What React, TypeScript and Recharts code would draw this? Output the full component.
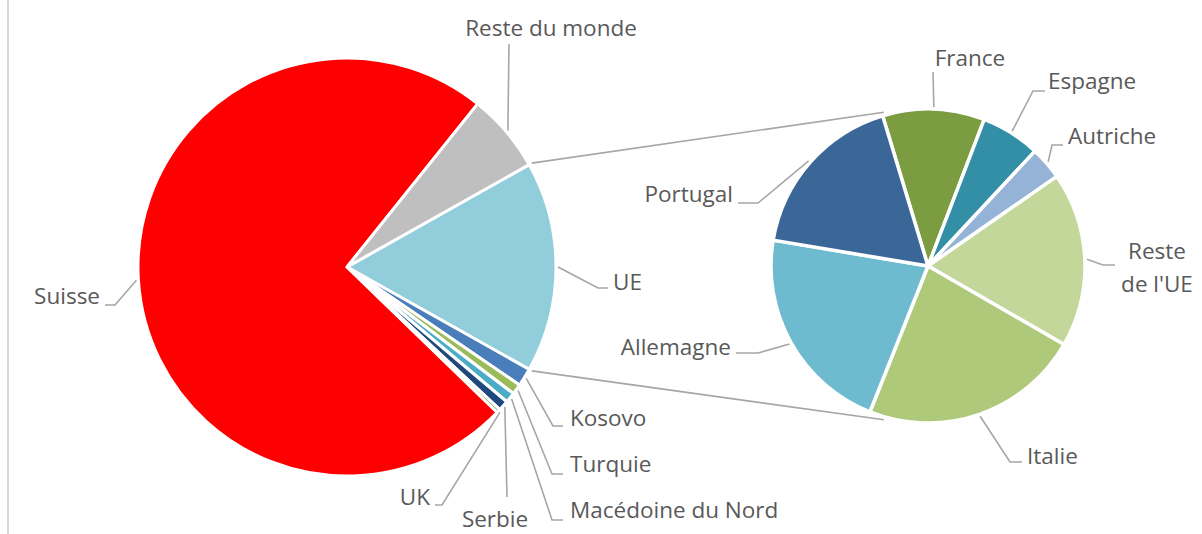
import React from "react";
import { PieChart, Pie, Cell } from "recharts";

// ---- Data ----
const leftNames = ["UE", "Kosovo", "Turquie", "Macédoine du Nord", "Serbie", "UK", "Suisse", "Reste du monde"];
const leftValues = [16.3, 1.4, 0.8, 0.8, 0.8, 0.3, 73.5, 6.1];
const leftColors = ["#92CDDC", "#4A7EBB", "#9BBB59", "#4BACC6", "#1F497D", "#77933C", "#FF0000", "#BFBFBF"];

const rightNames = ["France", "Espagne", "Autriche", "Reste de l'UE", "Italie", "Allemagne", "Portugal"];
const rightValues = [10.5, 6.1, 3.4, 18.0, 22.7, 21.6, 17.7];
const rightColors = ["#7B9C41", "#338FA6", "#95B3D7", "#C4D79B", "#AFC97B", "#6EBBD0", "#3A6698"];

// ---- Layout ----
const W = 1202;
const H = 534;
const LEFT = { cx: 347, cy: 267, r: 209 };
const RIGHT = { cx: 928, cy: 266, r: 157 };
const RIGHT_START = 106.8;
const FONT = "'Open Sans', 'Noto Sans', sans-serif";
const FONT_SIZE = 22.5;
const TEXT_COLOR = "#595959";
const LEADER = "#A6A6A6";

type Layout = {
  pts: number[][];
  tx: number;
  ty: number;
  anchor: "start" | "middle" | "end";
  lines?: string[];
  gap?: number;
};

const leftLayout: Record<string, Layout> = {
  "UE": { pts: [[251, 21], [261, 21]], tx: 266, ty: 23, anchor: "start" },
  "Kosovo": { pts: [[206, 159], [216, 159]], tx: 223, ty: 159, anchor: "start" },
  "Turquie": { pts: [[205, 207], [216, 207]], tx: 223, ty: 205, anchor: "start" },
  "Macédoine du Nord": { pts: [[205, 253], [216, 253]], tx: 223, ty: 251, anchor: "start" },
  "Serbie": { pts: [[160, 230]], tx: 148, ty: 260, anchor: "middle" },
  "UK": { pts: [[95, 238], [88, 238]], tx: 83, ty: 238, anchor: "end" },
  "Suisse": { pts: [[-232, 38], [-242, 38]], tx: -247, ty: 37, anchor: "end" },
  "Reste du monde": { pts: [[162, -223]], tx: 204, ty: -231, anchor: "middle" },
};

const rightLayout: Record<string, Layout> = {
  "France": { pts: [[5, -194]], tx: 42, ty: -200, anchor: "middle" },
  "Espagne": { pts: [[105, -175], [117, -175]], tx: 120, ty: -177, anchor: "start" },
  "Autriche": { pts: [[124, -121], [135, -121]], tx: 140, ty: -122, anchor: "start" },
  "Reste de l'UE": { pts: [[175, -1], [187, -1]], tx: 229, ty: -7, anchor: "middle", lines: ["Reste", "de l'UE"], gap: 33 },
  "Italie": { pts: [[82, 196], [94, 196]], tx: 99, ty: 198, anchor: "start" },
  "Allemagne": { pts: [[-170, 87], [-192, 87]], tx: -197, ty: 89, anchor: "end" },
  "Portugal": { pts: [[-170, -63], [-190, -63]], tx: -195, ty: -64, anchor: "end" },
};

const RAD = Math.PI / 180;

const makeLabel = (names: string[], layout: Record<string, Layout>, center: { cx: number; cy: number; r: number }) =>
  (props: any) => {
    const { midAngle, index } = props;
    const name = names[index];
    const L = layout[name];
    if (!L) return null;
    const { cx, cy, r } = center;
    const sx = cx + (r + 2) * Math.cos(-midAngle * RAD);
    const sy = cy + (r + 2) * Math.sin(-midAngle * RAD);
    const pts = [[sx, sy], ...L.pts.map(([x, y]) => [cx + x, cy + y])];
    const lines = L.lines || [name];
    return (
      <g key={`lbl-${name}`}>
        <polyline
          points={pts.map((p) => p.join(",")).join(" ")}
          fill="none"
          stroke={LEADER}
          strokeWidth={1.6}
        />
        <text
          x={cx + L.tx}
          y={cy + L.ty}
          textAnchor={L.anchor}
          fill={TEXT_COLOR}
          fontSize={FONT_SIZE}
          fontFamily={FONT}
        >
          {lines.map((t, i) => (
            <tspan key={i} x={cx + L.tx} dy={i === 0 ? 0 : L.gap}>
              {t}
            </tspan>
          ))}
        </text>
      </g>
    );
  };

export default function App() {
  const leftData = leftNames.map((name, i) => ({ name, value: leftValues[i] }));
  const rightData = rightNames.map((name, i) => ({ name, value: rightValues[i] }));
  const leftTotal = leftValues.reduce((a, b) => a + b, 0);
  const leftStart = ((leftValues[0] / leftTotal) * 360) / 2;

  // connector lines between the "UE" slice and the second pie
  const lp = (ang: number) => [
    LEFT.cx + (LEFT.r + 3) * Math.cos(-ang * RAD),
    LEFT.cy + (LEFT.r + 3) * Math.sin(-ang * RAD),
  ];
  const rp = (ang: number) => [
    RIGHT.cx + (RIGHT.r + 3) * Math.cos(-ang * RAD),
    RIGHT.cy + (RIGHT.r + 3) * Math.sin(-ang * RAD),
  ];
  const t1 = lp(leftStart);
  const t2 = rp(106);
  const b1 = lp(-leftStart);
  const b2 = rp(-106);

  return (
    <div style={{ position: "absolute", left: 0, top: 0, width: W, height: H, background: "#fff", overflow: "hidden" }}>
      <svg width={W} height={H} style={{ position: "absolute", left: 0, top: 0 }}>
        <line x1={8} y1={0} x2={8} y2={H} stroke="#D9D9D9" strokeWidth={2} />
        <line x1={t1[0]} y1={t1[1]} x2={t2[0]} y2={t2[1]} stroke={LEADER} strokeWidth={1.6} />
        <line x1={b1[0]} y1={b1[1]} x2={b2[0]} y2={b2[1]} stroke={LEADER} strokeWidth={1.6} />
      </svg>
      <div style={{ position: "absolute", left: 0, top: 0 }}>
        <PieChart width={W} height={H} margin={{ top: 0, right: 0, bottom: 0, left: 0 }}>
          <Pie
            data={leftData}
            dataKey="value"
            nameKey="name"
            cx={LEFT.cx}
            cy={LEFT.cy}
            outerRadius={LEFT.r}
            startAngle={leftStart}
            endAngle={leftStart - 360}
            stroke="#FFFFFF"
            strokeWidth={3}
            isAnimationActive={false}
            labelLine={false}
            label={makeLabel(leftNames, leftLayout, LEFT)}
          >
            {leftData.map((d, i) => (
              <Cell key={d.name} fill={leftColors[i]} />
            ))}
          </Pie>
          <Pie
            data={rightData}
            dataKey="value"
            nameKey="name"
            cx={RIGHT.cx}
            cy={RIGHT.cy}
            outerRadius={RIGHT.r}
            startAngle={RIGHT_START}
            endAngle={RIGHT_START - 360}
            stroke="#FFFFFF"
            strokeWidth={3.5}
            isAnimationActive={false}
            labelLine={false}
            label={makeLabel(rightNames, rightLayout, RIGHT)}
          >
            {rightData.map((d, i) => (
              <Cell key={d.name} fill={rightColors[i]} />
            ))}
          </Pie>
        </PieChart>
      </div>
    </div>
  );
}
